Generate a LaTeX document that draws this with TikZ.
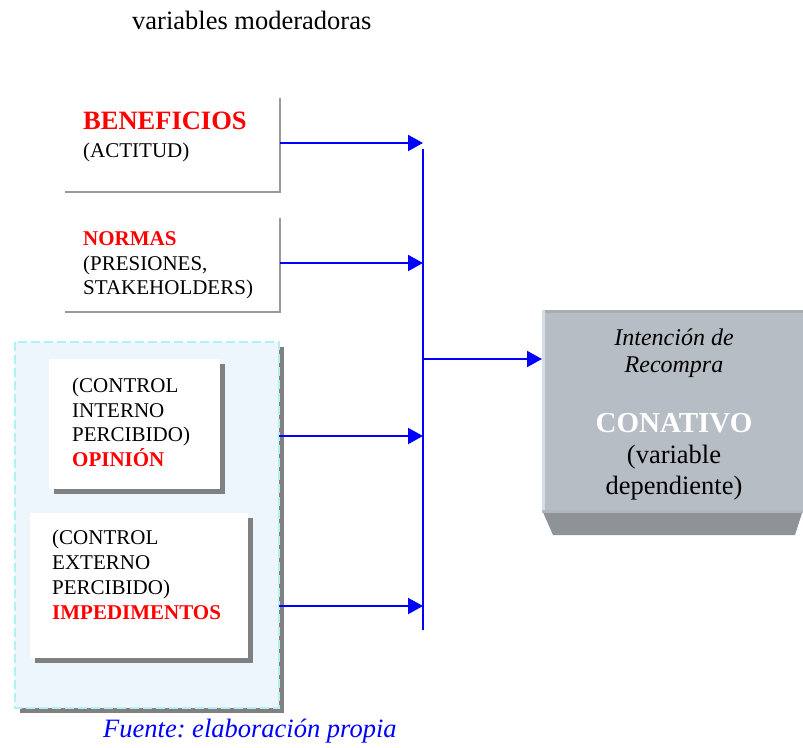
\documentclass[tikz,border=0pt]{standalone}
\usepackage{fontspec}
\setmainfont{Liberation Serif}
\usetikzlibrary{arrows.meta}
\definecolor{flowblue}{HTML}{0000FF}
\definecolor{framegray}{HTML}{9A9A9A}
\definecolor{panelfill}{HTML}{EEF6FD}
\definecolor{paneldash}{HTML}{B0F2F2}
\definecolor{shadowgray}{HTML}{808080}
\definecolor{facegray}{HTML}{B7BDC4}
\definecolor{bevelgray}{HTML}{8E9397}
\definecolor{edgelight}{HTML}{D5DDE5}
\definecolor{edgedark}{HTML}{A8ADB3}
\definecolor{hotred}{HTML}{FF0000}
\frenchspacing

\begin{document}
\begin{tikzpicture}[x=1pt,y=-1pt,
  small/.style={inner sep=0, anchor=base west, font=\fontsize{21}{25}\selectfont},
  hot/.style={small, text=hotred, font=\fontsize{21}{25}\selectfont\bfseries},
  large/.style={inner sep=0, anchor=base, font=\fontsize{26.5}{30}\selectfont},
  area/.style={inner sep=0, outer sep=0, anchor=north west},
  frame/.style={draw=framegray, line width=2.5pt},
  flow/.style={draw=flowblue, line width=2pt, -{Triangle[length=15pt,width=16pt]}},
]
\useasboundingbox (0,0) rectangle (803,747);

% heading
\node[large, anchor=base west] (title) at (132,29) {variables moderadoras};

% first two factors: open frames (right and bottom sides only)
\node[area, minimum width=215pt, minimum height=94pt] (ben) at (65,98) {};
\draw[frame] (ben.north east) -- (ben.south east) -- (ben.south west);
\node[small, text=hotred, font=\fontsize{26.5}{30}\selectfont\bfseries] (benA) at (83,129) {BENEFICIOS};
\node[small] (benB) at (83,157) {(ACTITUD)};

\node[area, minimum width=215pt, minimum height=94pt] (nor) at (65,218) {};
\draw[frame] (nor.north east) -- (nor.south east) -- (nor.south west);
\node[hot] (norA) at (83,245) {NORMAS};
\node[small] (norB) at (83,270) {(PRESIONES,};
\node[small] (norC) at (83,294) {STAKEHOLDERS)};

% perceived-control panel
\node[area, minimum width=264pt, minimum height=366pt] (panel) at (15,342) {};
\fill[shadowgray] ([shift={(5,5)}]panel.north west) rectangle ([shift={(5,5)}]panel.south east);
\fill[panelfill] (panel.north west) rectangle (panel.south east);
\draw[paneldash, line width=1.2pt, dash pattern=on 9pt off 4pt]
  (panel.north west) rectangle (panel.south east);

\node[area, minimum width=171pt, minimum height=130pt] (cin) at (49,359) {};
\fill[shadowgray] ([shift={(5,5)}]cin.north west) rectangle ([shift={(5,5)}]cin.south east);
\fill[white] (cin.north west) rectangle (cin.south east);
\node[small] (cinA) at (72,392) {(CONTROL};
\node[small] (cinB) at (72,417) {INTERNO};
\node[small] (cinC) at (72,441) {PERCIBIDO)};
\node[hot] (cinD) at (72,466) {OPINIÓN};

\node[area, minimum width=218pt, minimum height=145pt] (cex) at (30,513) {};
\fill[shadowgray] ([shift={(5,5)}]cex.north west) rectangle ([shift={(5,5)}]cex.south east);
\fill[white] (cex.north west) rectangle (cex.south east);
\node[small] (cexA) at (52,544) {(CONTROL};
\node[small] (cexB) at (52,569) {EXTERNO};
\node[small] (cexC) at (52,594) {PERCIBIDO)};
\node[hot] (cexD) at (52,619) {IMPEDIMENTOS};

% dependent variable block
\node[area, minimum width=261pt, minimum height=200pt, fill=facegray] (tgt) at (542,310) {};
\fill[edgedark] (tgt.north west) rectangle ++(261,3);
\fill[edgelight] (tgt.north west) rectangle ++(3,200);
\fill[bevelgray] (tgt.south west) -- (tgt.south east) -- ++(-8,25) -- ++(-242,0) -- cycle;
\fill[facegray!85!bevelgray] (tgt.south west) rectangle ++(261,3);
\node[large, font=\fontsize{24}{28}\selectfont\itshape] (tgtA) at (674,345) {Intención de};
\node[large, font=\fontsize{24}{28}\selectfont\itshape] (tgtB) at (674,372) {Recompra};
\node[large, text=white, font=\fontsize{29}{32}\selectfont\bfseries] (tgtC) at (674,432) {CONATIVO};
\node[large] (tgtD) at (674,463) {(variable};
\node[large] (tgtE) at (674,494) {dependiente)};

% collecting bus and arrows
\coordinate (busT) at (423,149);
\coordinate (busB) at (423,630);
\draw[flowblue, line width=2pt] (busT) -- (busB);
\draw[flow] (ben.north east |- 0,143) -- (busT |- 0,143);
\draw[flow] (nor.north east |- 0,263) -- (busT |- 0,263);
\draw[flow] (panel.north east |- 0,436) -- (busT |- 0,436);
\draw[flow] (panel.north east |- 0,606) -- (busT |- 0,606);
\draw[flow] (busT |- 0,359) -- (tgt.west |- 0,359);

% source note
\node[large, anchor=base west, text=flowblue, font=\fontsize{26.5}{30}\selectfont\itshape] (src) at (103,737) {Fuente: elaboración propia};
\end{tikzpicture}
\end{document}
